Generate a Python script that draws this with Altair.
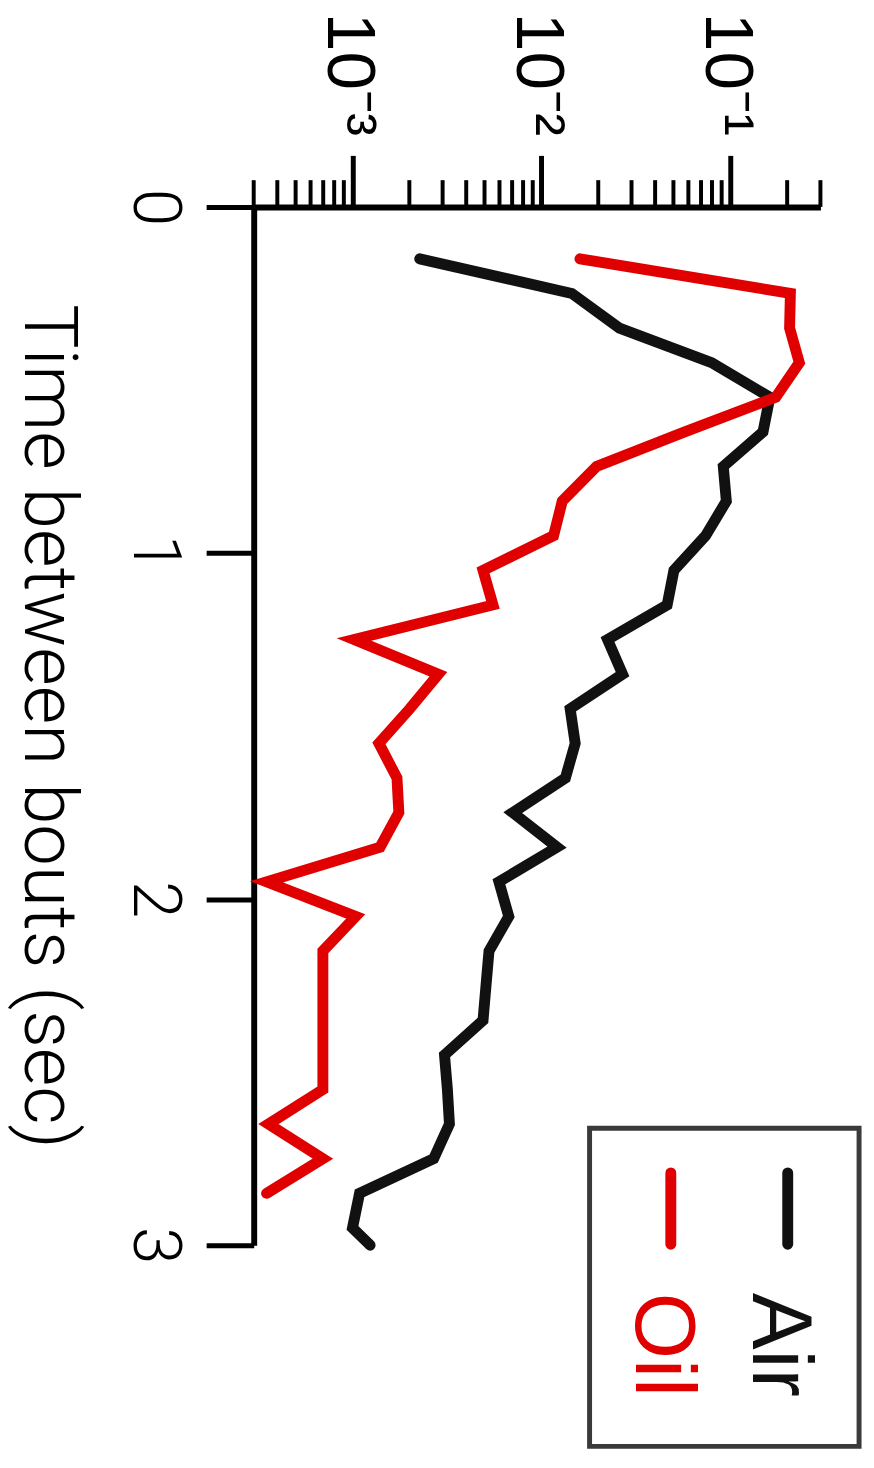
import altair as alt
import pandas as pd

# ---- data read from the (rotated) reference chart ----
time_air = [0.15, 0.25, 0.35, 0.45, 0.55, 0.65, 0.75, 0.85, 0.95, 1.05,
            1.15, 1.25, 1.35, 1.45, 1.55, 1.65, 1.75, 1.85, 1.95, 2.05,
            2.15, 2.25, 2.35, 2.45, 2.55, 2.65, 2.75, 2.85, 2.95, 3.0]
air = [0.00227, 0.0145, 0.0259, 0.0796, 0.162, 0.149, 0.0918, 0.0953, 0.0740, 0.0503,
       0.0463, 0.0224, 0.0269, 0.0142, 0.0151, 0.0134, 0.00705, 0.0121, 0.00596, 0.00672,
       0.00528, 0.00509, 0.00491, 0.00307, 0.00318, 0.00326, 0.00269, 0.00109, 0.00100, 0.00124]

time_oil = [0.15, 0.25, 0.35, 0.45, 0.55, 0.65, 0.75, 0.85, 0.95, 1.05,
            1.15, 1.25, 1.35, 1.45, 1.55, 1.65, 1.75, 1.85, 1.95, 2.05,
            2.15, 2.25, 2.35, 2.45, 2.55, 2.65, 2.75, 2.85]
oil = [0.0160, 0.208, 0.206, 0.232, 0.174, 0.0574, 0.0196, 0.0129, 0.0116, 0.00491,
       0.00554, 0.00102, 0.00285, 0.00201, 0.00138, 0.00172, 0.00176, 0.00140, 0.000351, 0.00104,
       0.000697, 0.000697, 0.000697, 0.000697, 0.000697, 0.000359, 0.000697, 0.000351]

series_names = ["Air", "Oil"]
series_colors = ["#111111", "#e00000"]

major_vals = [0.001, 0.01, 0.1]
major_labels = ["10\u207b\u00b3", "10\u207b\u00b2", "10\u207b\u00b9"]
minor_vals = [3e-4, 4e-4, 5e-4, 6e-4, 7e-4, 8e-4, 9e-4,
              2e-3, 3e-3, 4e-3, 5e-3, 6e-3, 7e-3, 8e-3, 9e-3,
              2e-2, 3e-2, 4e-2, 5e-2, 6e-2, 7e-2, 8e-2, 9e-2,
              2e-1, 3e-1]
time_ticks = [0, 1, 2, 3]
x_title = "Time between bouts (sec)"

# ---- tables ----
df = pd.concat([
    pd.DataFrame({"t": time_air, "v": air, "s": "Air"}),
    pd.DataFrame({"t": time_oil, "v": oil, "s": "Oil"}),
])
df_minor = pd.DataFrame({"m": minor_vals})

W, H = 572, 1048
FONT = "Liberation Sans"
LIGHT = "Roboto"

label_expr = " : ".join(
    f"datum.value == {v} ? '{l}'" for v, l in zip(major_vals, major_labels)
) + " : ''"

xscale = alt.Scale(type="log", domain=[3e-4, 0.3], nice=False)
yscale = alt.Scale(domain=[0, 3], reverse=True, nice=False)

lines = alt.Chart(df).mark_line(
    strokeWidth=11, strokeCap="round", strokeJoin="miter"
).encode(
    x=alt.X("v:Q", scale=xscale, axis=alt.Axis(
        orient="top", values=major_vals, labelExpr=label_expr, title=None,
        tickSize=52, tickWidth=5, domainWidth=6, grid=False,
        labelAngle=90, labelAlign="right", labelBaseline="middle",
        labelPadding=20, labelOffset=-4, labelFontSize=70, labelFont=FONT,
        labelColor="black", tickColor="black", domainColor="black")),
    y=alt.Y("t:Q", scale=yscale, axis=alt.Axis(
        orient="left", values=time_ticks, format="d", title=x_title,
        tickSize=48, tickWidth=5, domainWidth=6, grid=False,
        labelAngle=90, labelAlign="center", labelBaseline="top",
        labelPadding=19, labelFontSize=68, labelFont=LIGHT, labelFontWeight=300,
        labelColor="black", tickColor="black", domainColor="black",
        titleAngle=90, titleFontSize=75, titleFont=LIGHT, titleFontWeight=300,
        titleColor="black", titleX=-172, titleY=H / 2,
        titleAlign="center", titleBaseline="top")),
    color=alt.Color("s:N", scale=alt.Scale(domain=series_names, range=series_colors),
                    legend=None),
    order=alt.Order("t:Q"),
    detail="s:N",
)

minor = alt.Chart(df_minor).mark_rule(color="black", strokeWidth=4).encode(
    x=alt.X("m:Q", scale=xscale),
    y=alt.value(0),
    y2=alt.value(-27),
)

# ---- hand-made rotated legend ----
box = alt.Chart(pd.DataFrame({"k": [0]})).mark_rect(
    fill="white", stroke="#3a3a3a", strokeWidth=5
).encode(x=alt.value(339), x2=alt.value(611), y=alt.value(930), y2=alt.value(1251))

legend_layers = [box]
for i, (name, col) in enumerate(zip(series_names, series_colors)):
    lx = 539 - i * 118
    legend_layers.append(
        alt.Chart(pd.DataFrame({"k": [0]})).mark_rule(
            color=col, strokeWidth=11, strokeCap="round"
        ).encode(x=alt.value(lx), y=alt.value(975), y2=alt.value(1047))
    )
    legend_layers.append(
        alt.Chart(pd.DataFrame({"k": [0]})).mark_text(
            text=name, color=col, font=FONT, fontSize=86, angle=90,
            align="left", baseline="alphabetic"
        ).encode(x=alt.value(lx - 35), y=alt.value(1096))
    )

chart = alt.layer(minor, lines, *legend_layers).properties(
    width=W, height=H,
    autosize=alt.AutoSizeParams(type="none"),
    padding={"left": 248, "top": 194, "right": 46, "bottom": 210},
    background="white",
).configure_view(strokeWidth=0)

chart.save("out.html", embed_options={"renderer": "svg", "actions": False})
